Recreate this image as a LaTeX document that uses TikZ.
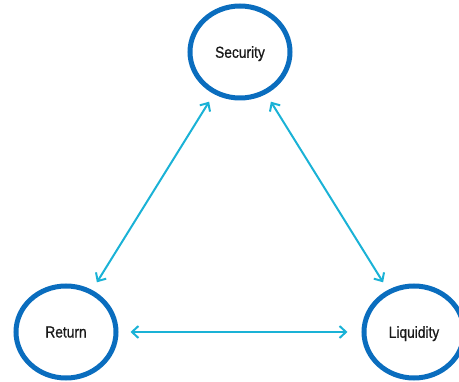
\documentclass[tikz,border=0pt]{standalone}
\usepackage{fontspec}
\setmainfont{Liberation Sans}
\usetikzlibrary{shapes.geometric,arrows.meta}
\definecolor{ringblue}{HTML}{0A6DBE}
\definecolor{linkcyan}{HTML}{1AB2D6}
\begin{document}
\begin{tikzpicture}[x=1pt,y=-1pt,
  ring/.style={ellipse, draw=ringblue, line width=5pt, minimum width=100pt, minimum height=92pt, inner sep=0pt,
    text depth=0pt, font=\fontsize{16}{18}\selectfont\addfontfeature{FakeStretch=0.86,FakeBold=0.7}, text=black!90},
  link/.style={draw=linkcyan, line width=2pt, {Straight Barb[length=6.5pt,width=12pt,line width=2pt]}-{Straight Barb[length=6.5pt,width=12pt,line width=2pt]}}]
  \useasboundingbox (0,0) rectangle (459,382);
  \node[ring] (sec) at (240,52) {Security};
  \node[ring] (ret) at (66,332) {Return};
  \node[ring] (liq) at (414,332) {Liquidity};
  \draw[link, shorten <=9pt, shorten >=9pt] (sec) -- (ret);
  \draw[link, shorten <=9pt, shorten >=9pt] (sec) -- (liq);
  \draw[link, shorten <=12pt, shorten >=14pt] (ret) -- (liq);
\end{tikzpicture}
\end{document}
